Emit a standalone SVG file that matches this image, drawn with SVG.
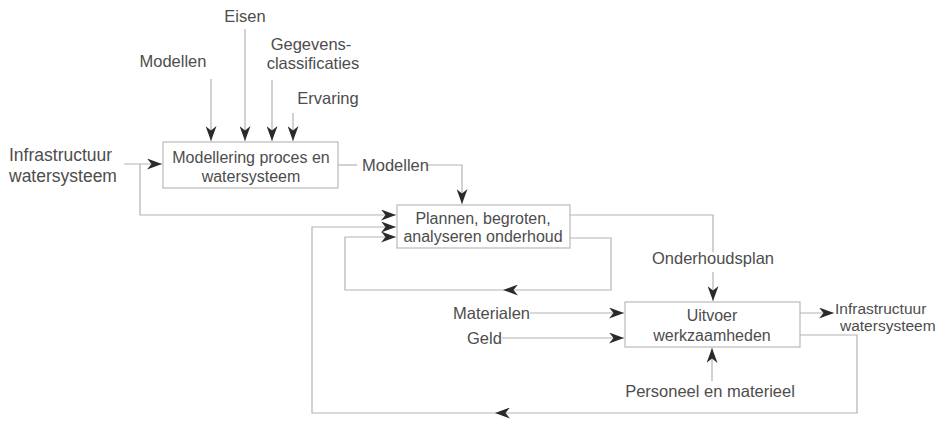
<svg xmlns="http://www.w3.org/2000/svg" width="937" height="421" viewBox="0 0 937 421">
<style>
  .box { fill: #ffffff; stroke: #b9b9b9; stroke-width: 1.2; }
  .ln { fill: none; stroke: #b3b3b3; stroke-width: 1.2; }
  .arr { marker-end: url(#ah); }
  text { font-family: "Liberation Sans", Arial, sans-serif; font-size: 16.5px; fill: #4d4d4d; }
  .mid { text-anchor: middle; }
  .big { font-size: 17.5px; }
  .sm { font-size: 15.5px; }
  .in { font-size: 16px; }
</style>
<defs>
  <marker id="ah" viewBox="0 0 15 11" refX="15" refY="5.5" markerWidth="15" markerHeight="11" markerUnits="userSpaceOnUse" orient="auto">
    <path d="M0,0 L15,5.5 L0,11 L4.5,5.5 z" fill="#2a2a2a"/>
  </marker>
</defs>
<rect width="937" height="421" fill="#ffffff"/>

<g id="connectors">
  <line class="ln arr" x1="211" y1="79" x2="211" y2="141"/>
  <line class="ln arr" x1="245" y1="29" x2="245" y2="141"/>
  <line class="ln arr" x1="272" y1="80" x2="272" y2="141"/>
  <line class="ln arr" x1="293" y1="113" x2="293" y2="141"/>
  <polyline class="ln arr" points="124,164 162,164"/>
  <polyline class="ln arr" points="140,164 140,215 396,215"/>
  <line class="ln" x1="338" y1="165" x2="357" y2="165"/>
  <polyline class="ln arr" points="425,165 462,165 462,204"/>
  <polyline class="ln arr" points="570,238 611,238 611,290 503,290"/>
  <polyline class="ln arr" points="503,290 345,290 345,237 396,237"/>
  <polyline class="ln arr" points="800,335 857,335 857,413 495,413"/>
  <polyline class="ln arr" points="495,413 312,413 312,227 396,227"/>
  <polyline class="ln" points="570,215 713,215 713,252"/>
  <line class="ln arr" x1="713" y1="272" x2="713" y2="301"/>
  <line class="ln arr" x1="530" y1="313" x2="624" y2="313"/>
  <line class="ln arr" x1="502" y1="338" x2="624" y2="338"/>
  <line class="ln arr" x1="800" y1="313" x2="834" y2="313"/>
  <line class="ln arr" x1="712" y1="381" x2="712" y2="348"/>
</g>

<g id="labels">
  <text class="mid" x="245" y="22">Eisen</text>
  <text class="mid" x="173" y="67">Modellen</text>
  <text class="mid" x="311" y="50">Gegevens-</text>
  <text class="mid" x="313" y="69">classificaties</text>
  <text class="mid" x="328" y="104">Ervaring</text>
  <text class="big" x="9" y="161">Infrastructuur</text>
  <text class="big" x="9" y="182">watersysteem</text>
  <text x="362" y="171">Modellen</text>
  <text class="mid" x="713" y="264">Onderhoudsplan</text>
  <text x="453" y="319">Materialen</text>
  <text x="467" y="344">Geld</text>
  <text class="sm" x="835" y="314">Infrastructuur</text>
  <text class="sm" x="840" y="331">watersysteem</text>
  <text class="mid" x="710" y="397">Personeel en materieel</text>
</g>

<g id="node-modellering">
  <rect class="box" x="163" y="142" width="175" height="46"/>
  <text class="mid in" x="251" y="163">Modellering proces en</text>
  <text class="mid in" x="251" y="182">watersysteem</text>
</g>

<g id="node-plannen">
  <rect class="box" x="397" y="205" width="173" height="43"/>
  <text class="mid in" x="483" y="224">Plannen, begroten,</text>
  <text class="mid in" x="483" y="242">analyseren onderhoud</text>
</g>

<g id="node-uitvoer">
  <rect class="box" x="625" y="302" width="175" height="45"/>
  <text class="mid in" x="712" y="321">Uitvoer</text>
  <text class="mid in" x="712" y="341">werkzaamheden</text>
</g>
</svg>
